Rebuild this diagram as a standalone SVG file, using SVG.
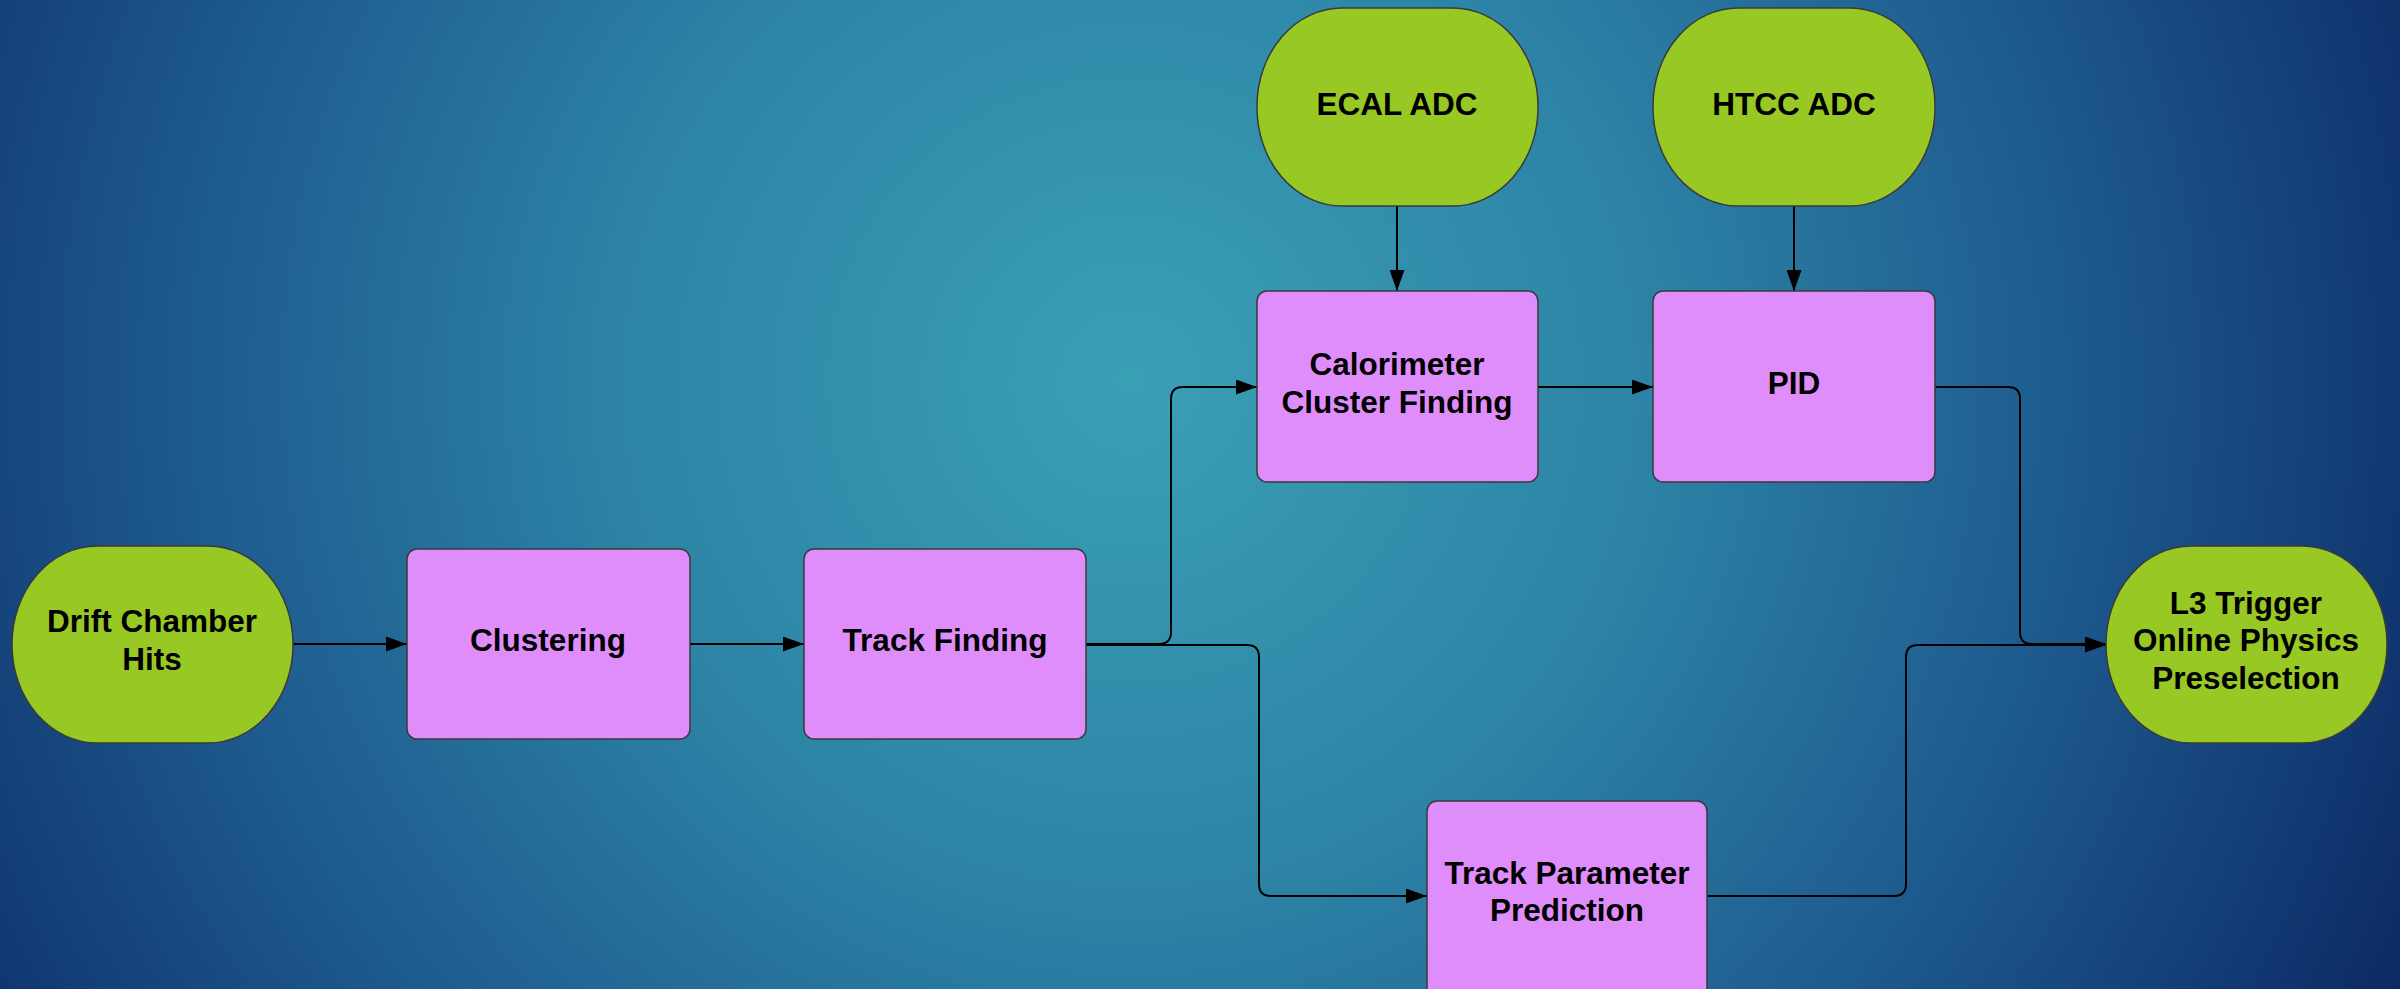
<svg xmlns="http://www.w3.org/2000/svg" width="2400" height="989" viewBox="0 0 2400 989">
<defs>
<radialGradient id="bg" gradientUnits="userSpaceOnUse" cx="1130" cy="380" r="1450">
<stop offset="0" stop-color="#3aa0b6"/>
<stop offset="0.35" stop-color="#2d84a6"/>
<stop offset="0.65" stop-color="#1d5a8e"/>
<stop offset="1" stop-color="#0b2560"/>
</radialGradient>
<marker id="arr" markerUnits="userSpaceOnUse" markerWidth="21" markerHeight="15" refX="21" refY="7.5" orient="auto">
<path d="M0,0 L21,7.5 L0,15 z" fill="#000"/>
</marker>
</defs>
<style>
.term{fill:#98c823;stroke:#3a3a3a;stroke-width:1.5}
.proc{fill:#df8dfb;stroke:#3a3a3a;stroke-width:1.5}
.lbl{font-family:"Liberation Sans",Arial,sans-serif;font-weight:bold;font-size:31.5px;fill:#000;text-anchor:middle}
.edge{fill:none;stroke:#000;stroke-width:2;marker-end:url(#arr)}
</style>
<rect x="0" y="0" width="2400" height="989" fill="url(#bg)"/>
<g id="connectors">
<path class="edge" d="M292,644 H407"/>
<path class="edge" d="M690,644 H804"/>
<path class="edge" d="M1086,644 H1159 Q1171,644 1171,632 V399 Q1171,387 1183,387 H1257"/>
<path class="edge" d="M1086,645 H1247 Q1259,645 1259,657 V884 Q1259,896 1271,896 H1427"/>
<path class="edge" d="M1397,206 V291"/>
<path class="edge" d="M1794,206 V291"/>
<path class="edge" d="M1538,387 H1653"/>
<path class="edge" d="M1935,387 H2008 Q2020,387 2020,399 V632 Q2020,644 2032,644 H2106"/>
<path class="edge" d="M1707,896 H1894 Q1906,896 1906,884 V657 Q1906,645 1918,645 H2106"/>
</g>
<g id="drift">
<rect class="term" x="12" y="546" width="281" height="197" rx="85" ry="98"/>
<text class="lbl" x="152" y="632">Drift Chamber</text>
<text class="lbl" x="152" y="670">Hits</text>
</g>
<g id="clustering">
<rect class="proc" x="407" y="549" width="283" height="190" rx="10"/>
<text class="lbl" x="548" y="651">Clustering</text>
</g>
<g id="trackfinding">
<rect class="proc" x="804" y="549" width="282" height="190" rx="10"/>
<text class="lbl" x="945" y="651">Track Finding</text>
</g>
<g id="ecal">
<rect class="term" x="1257" y="8" width="281" height="198" rx="85" ry="98"/>
<text class="lbl" x="1397" y="115">ECAL ADC</text>
</g>
<g id="htcc">
<rect class="term" x="1653" y="8" width="282" height="198" rx="85" ry="98"/>
<text class="lbl" x="1794" y="115">HTCC ADC</text>
</g>
<g id="calorimeter">
<rect class="proc" x="1257" y="291" width="281" height="191" rx="10"/>
<text class="lbl" x="1397" y="375">Calorimeter</text>
<text class="lbl" x="1397" y="413">Cluster Finding</text>
</g>
<g id="pid">
<rect class="proc" x="1653" y="291" width="282" height="191" rx="10"/>
<text class="lbl" x="1794" y="394">PID</text>
</g>
<g id="trackparam">
<rect class="proc" x="1427" y="801" width="280" height="200" rx="10"/>
<text class="lbl" x="1567" y="884">Track Parameter</text>
<text class="lbl" x="1567" y="921">Prediction</text>
</g>
<g id="l3">
<rect class="term" x="2106" y="546" width="281" height="197" rx="85" ry="98"/>
<text class="lbl" x="2246" y="614">L3 Trigger</text>
<text class="lbl" x="2246" y="651">Online Physics</text>
<text class="lbl" x="2246" y="689">Preselection</text>
</g>
</svg>
